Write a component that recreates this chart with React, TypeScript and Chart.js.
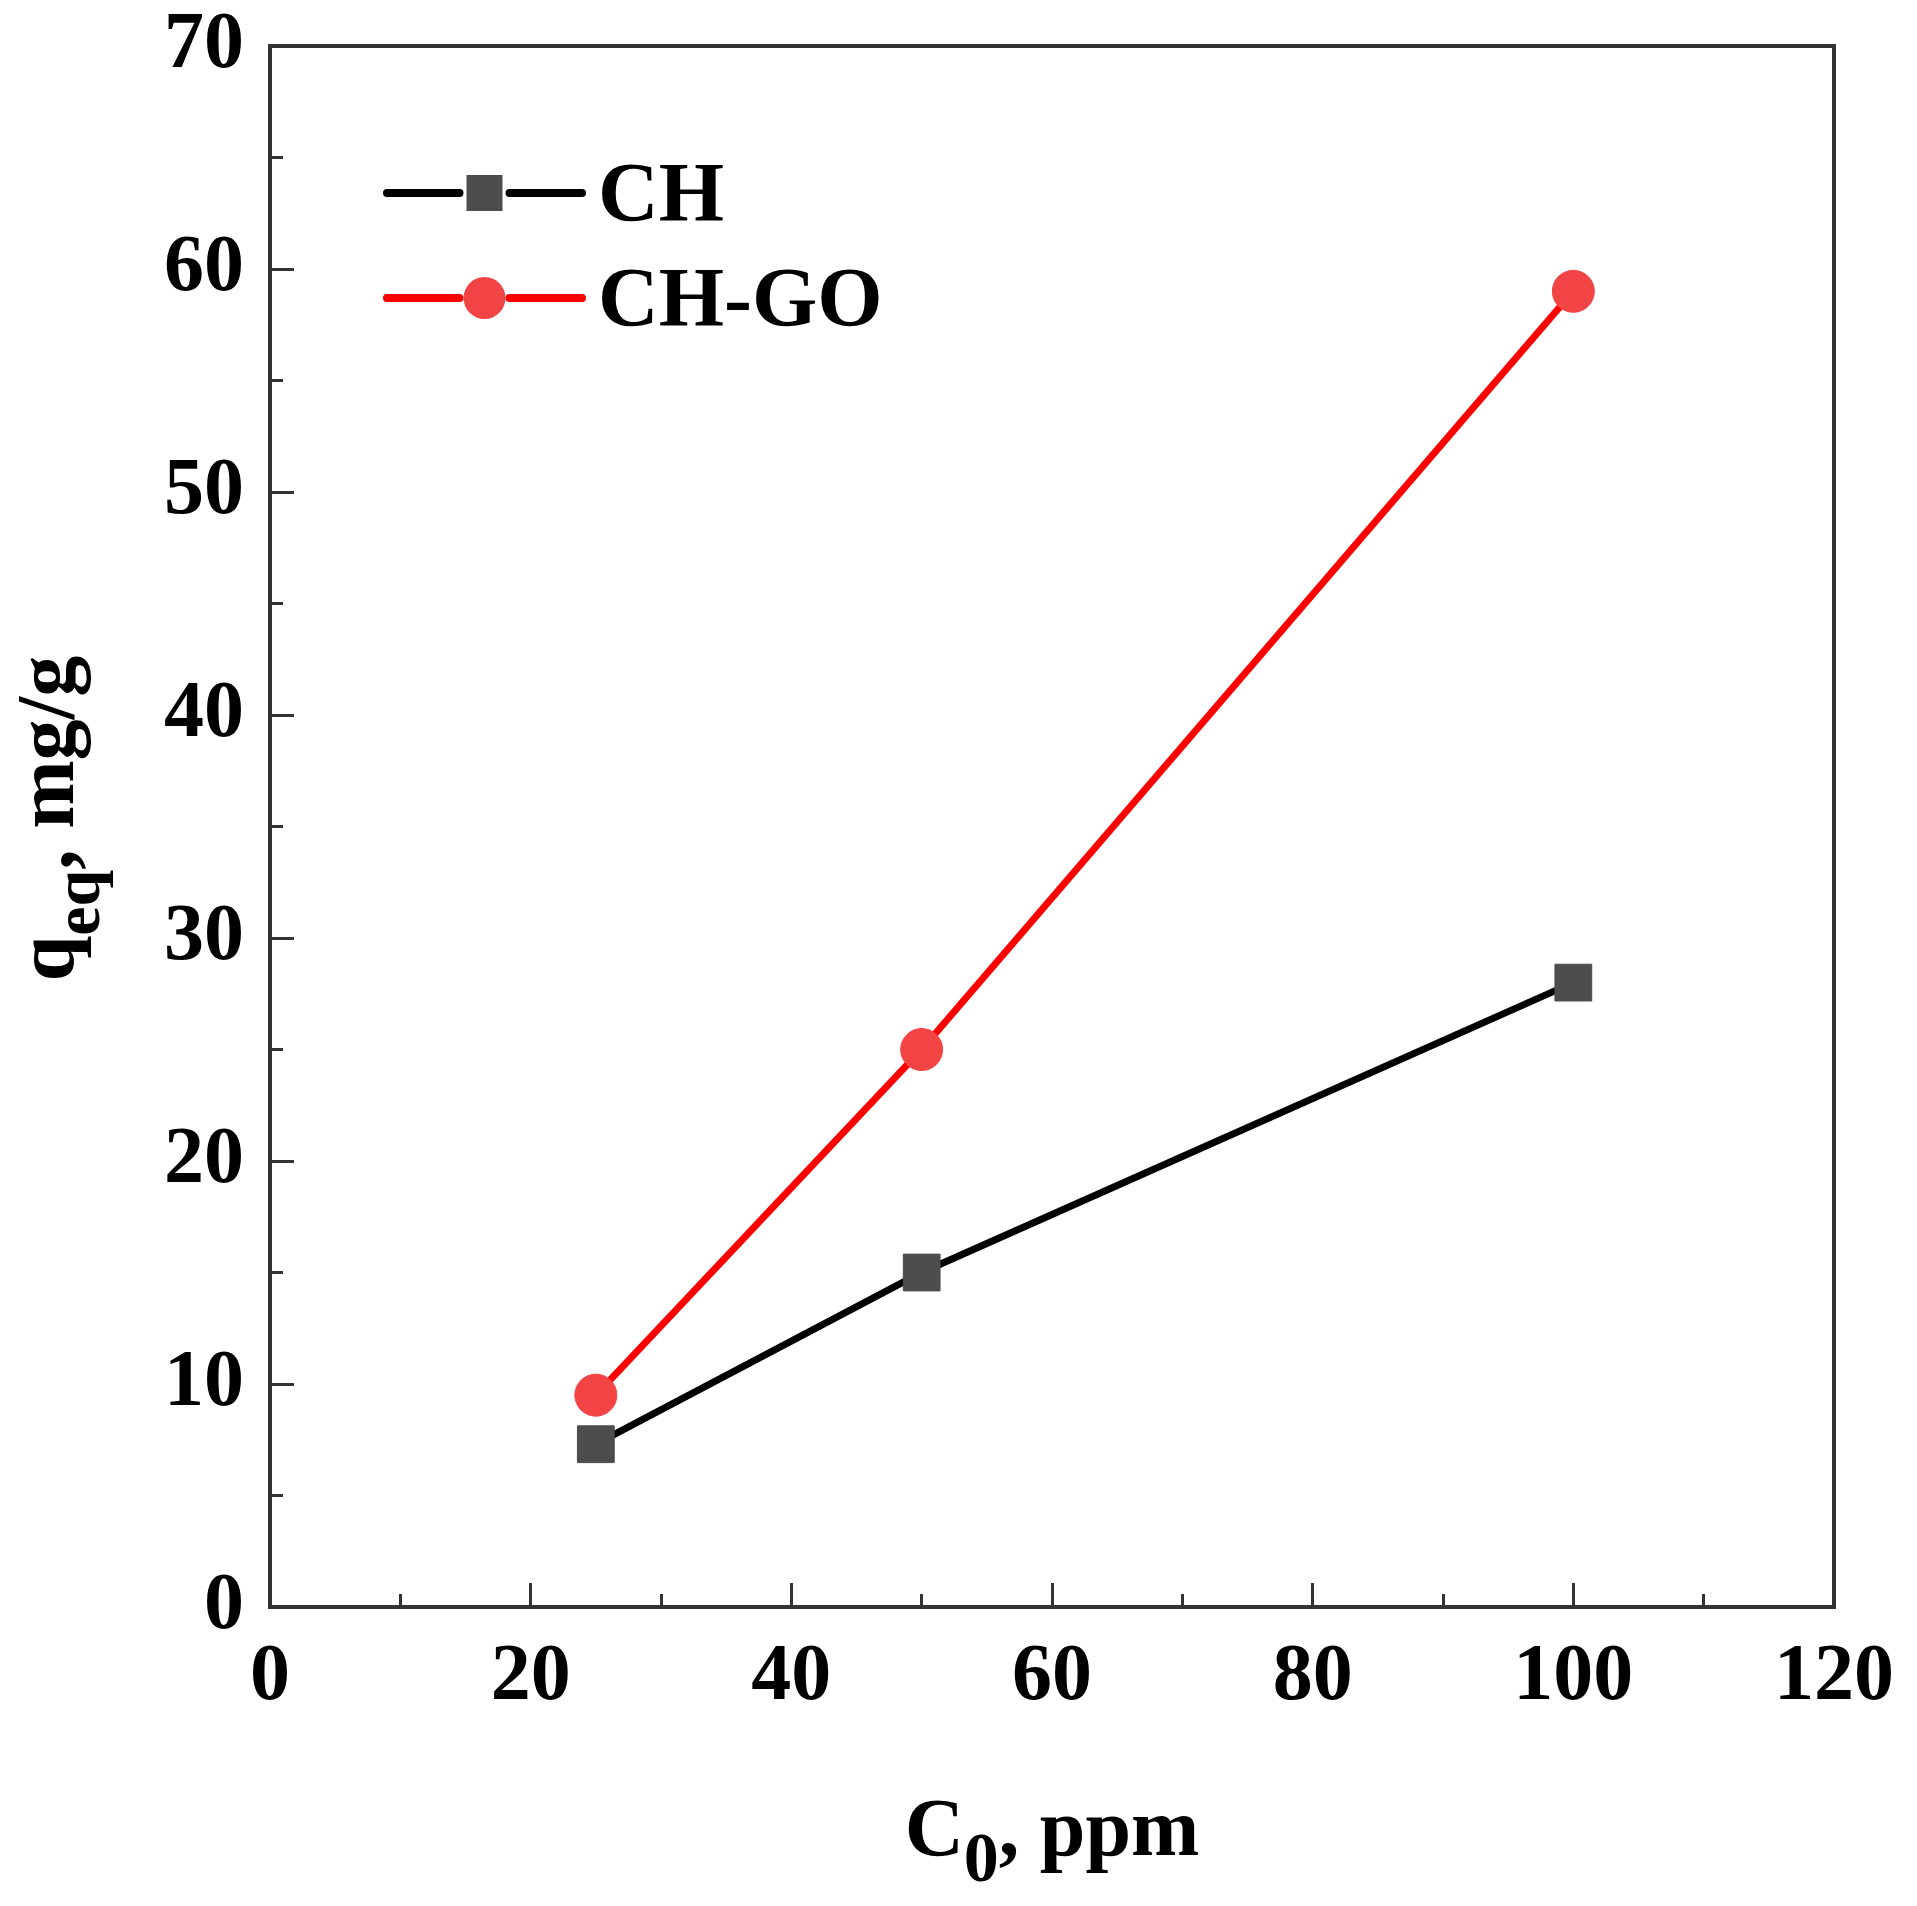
import { useEffect, useRef } from "react";
import { Chart, registerables } from "chart.js";

Chart.register(...registerables);

// values
const concentrations = [25, 50, 100];
const chValues = [7.3, 15, 28];
const chGoValues = [9.5, 25, 59];
const seriesNames = ["CH", "CH-GO"];

// axis ticks
const xMajorTicks = [0, 20, 40, 60, 80, 100, 120];
const xMinorTicks = [10, 30, 50, 70, 90, 110];
const yMajorTicks = [0, 10, 20, 30, 40, 50, 60, 70];
const yMinorTicks = [5, 15, 25, 35, 45, 55, 65];

const SERIF = '"Liberation Serif", "Times New Roman", serif';
const AXIS_COLOR = "#333333";

type Part = { text: string; size: number; dy: number };

// draws a run of text pieces (for subscripts) centred on x
function drawParts(ctx: CanvasRenderingContext2D, parts: Part[], x: number, y: number) {
  let total = 0;
  const widths = parts.map((p) => {
    ctx.font = `bold ${p.size}px ${SERIF}`;
    const w = ctx.measureText(p.text).width;
    total += w;
    return w;
  });
  let cx = x - total / 2;
  parts.forEach((p, i) => {
    ctx.font = `bold ${p.size}px ${SERIF}`;
    ctx.fillText(p.text, cx, y + p.dy);
    cx += widths[i];
  });
}

const titlesPlugin = {
  id: "richTitles",
  afterDraw(chart: any) {
    const { ctx, chartArea } = chart;
    const cx = (chartArea.left + chartArea.right) / 2;
    const cy = (chartArea.top + chartArea.bottom) / 2;
    ctx.save();
    ctx.fillStyle = "#000";
    ctx.textAlign = "left";
    ctx.textBaseline = "alphabetic";
    drawParts(
      ctx,
      [
        { text: "C", size: 82, dy: 0 },
        { text: "0", size: 70, dy: 26 },
        { text: ", ppm", size: 82, dy: 0 },
      ],
      cx,
      chartArea.bottom + 248
    );
    ctx.translate(73, cy - 8);
    ctx.rotate(-Math.PI / 2);
    drawParts(
      ctx,
      [
        { text: "q", size: 82, dy: 0 },
        { text: "eq", size: 66, dy: 26 },
        { text: ", mg/g", size: 82, dy: 0 },
      ],
      0,
      0
    );
    ctx.restore();
  },
};

// line + marker legend like the original figure
const legendPlugin = {
  id: "lineLegend",
  afterDraw(chart: any) {
    const { ctx, chartArea } = chart;
    ctx.save();
    chart.data.datasets.forEach((ds: any, i: number) => {
      const y = chartArea.top + 147 + i * 105;
      const x0 = chartArea.left + 117;
      const x1 = x0 + 195;
      const mx = (x0 + x1) / 2;
      ctx.strokeStyle = ds.borderColor;
      ctx.lineWidth = 8;
      ctx.lineCap = "round";
      ctx.beginPath();
      ctx.moveTo(x0, y);
      ctx.lineTo(mx - 25, y);
      ctx.moveTo(mx + 25, y);
      ctx.lineTo(x1, y);
      ctx.stroke();
      ctx.fillStyle = ds.pointBackgroundColor;
      if (ds.pointStyle === "rect") {
        ctx.fillRect(mx - 18, y - 18, 36, 36);
      } else {
        ctx.beginPath();
        ctx.arc(mx, y, 21, 0, Math.PI * 2);
        ctx.fill();
      }
      ctx.fillStyle = "#000";
      ctx.font = `bold 84px ${SERIF}`;
      ctx.textAlign = "left";
      ctx.textBaseline = "alphabetic";
      ctx.fillText(ds.label, x1 + 16, y + 28);
    });
    ctx.restore();
  },
};

const setTicks = (values: number[]) => (scale: any) => {
  scale.ticks = values.map((v) => ({ value: v }));
};

// fixes a scale's thickness and drops the label overflow padding,
// so the plot area is exactly the one set by layout.padding
const fixSize = (size: number) => (s: any) => {
  if (s.isHorizontal()) s.height = size;
  else s.width = size;
  s.paddingTop = 0;
  s.paddingBottom = 0;
  s.paddingLeft = 0;
  s.paddingRight = 0;
};

const App = () => {
  const canvasRef = useRef<HTMLCanvasElement | null>(null);
  const chartRef = useRef<Chart | null>(null);

  useEffect(() => {
    document.body.style.margin = "0";
    if (!canvasRef.current) return;
    if (chartRef.current) chartRef.current.destroy();

    const tickFont = { family: SERIF, size: 80, weight: "bold" as const, lineHeight: 1 };

    chartRef.current = new Chart(canvasRef.current, {
      type: "line",
      data: {
        datasets: [
          {
            label: seriesNames[0],
            data: concentrations.map((x, i) => ({ x, y: chValues[i] })),
            borderColor: "#000000",
            borderWidth: 7,
            pointStyle: "rect",
            pointRadius: 26,
            pointBackgroundColor: "#4D4D4D",
            pointBorderColor: "#4D4D4D",
            pointBorderWidth: 1,
            xAxisID: "x",
            yAxisID: "y",
          },
          {
            label: seriesNames[1],
            data: concentrations.map((x, i) => ({ x, y: chGoValues[i] })),
            borderColor: "#FF0000",
            borderWidth: 7,
            pointStyle: "circle",
            pointRadius: 21,
            pointBackgroundColor: "#F24444",
            pointBorderColor: "#F24444",
            pointBorderWidth: 1,
            xAxisID: "x",
            yAxisID: "y",
          },
        ],
      },
      options: {
        responsive: false,
        animation: false,
        layout: { padding: { left: 0, top: 46, right: 83, bottom: 0 } },
        plugins: {
          legend: { display: false },
          tooltip: { enabled: false },
        },
        scales: {
          x: {
            type: "linear",
            position: "bottom",
            weight: 1,
            min: 0,
            max: 120,
            afterBuildTicks: setTicks(xMajorTicks),
            afterFit: fixSize(299),
            grid: {
              drawOnChartArea: false,
              drawTicks: true,
              tickLength: -24,
              tickWidth: 3,
              tickColor: AXIS_COLOR,
            },
            border: { display: true, color: AXIS_COLOR, width: 4 },
            ticks: { color: "#000", font: tickFont, padding: 55, maxRotation: 0, autoSkip: false },
          },
          xMinor: {
            type: "linear",
            position: "bottom",
            weight: 0,
            min: 0,
            max: 120,
            afterBuildTicks: setTicks(xMinorTicks),
            afterFit: fixSize(0),
            grid: {
              drawOnChartArea: false,
              drawTicks: true,
              tickLength: -13,
              tickWidth: 3,
              tickColor: AXIS_COLOR,
            },
            border: { display: false },
            ticks: { display: false },
          },
          x2: {
            type: "linear",
            position: "top",
            min: 0,
            max: 120,
            afterFit: fixSize(0),
            grid: { display: false },
            border: { display: true, color: AXIS_COLOR, width: 4 },
            ticks: { display: false },
          },
          y: {
            type: "linear",
            position: "left",
            weight: 1,
            min: 0,
            max: 70,
            afterBuildTicks: setTicks(yMajorTicks),
            afterFit: fixSize(270),
            grid: {
              drawOnChartArea: false,
              drawTicks: true,
              tickLength: -24,
              tickWidth: 3,
              tickColor: AXIS_COLOR,
            },
            border: { display: true, color: AXIS_COLOR, width: 4 },
            ticks: { color: "#000", font: tickFont, padding: 50, autoSkip: false },
          },
          yMinor: {
            type: "linear",
            position: "left",
            weight: 0,
            min: 0,
            max: 70,
            afterBuildTicks: setTicks(yMinorTicks),
            afterFit: fixSize(0),
            grid: {
              drawOnChartArea: false,
              drawTicks: true,
              tickLength: -13,
              tickWidth: 3,
              tickColor: AXIS_COLOR,
            },
            border: { display: false },
            ticks: { display: false },
          },
          y2: {
            type: "linear",
            position: "right",
            min: 0,
            max: 70,
            afterFit: fixSize(0),
            grid: { display: false },
            border: { display: true, color: AXIS_COLOR, width: 4 },
            ticks: { display: false },
          },
        },
      },
      plugins: [titlesPlugin, legendPlugin],
    });

    return () => {
      if (chartRef.current) {
        chartRef.current.destroy();
        chartRef.current = null;
      }
    };
  }, []);

  return (
    <canvas
      ref={canvasRef}
      width={1917}
      height={1906}
      style={{ display: "block", width: "1917px", height: "1906px" }}
    />
  );
};

export default App;
